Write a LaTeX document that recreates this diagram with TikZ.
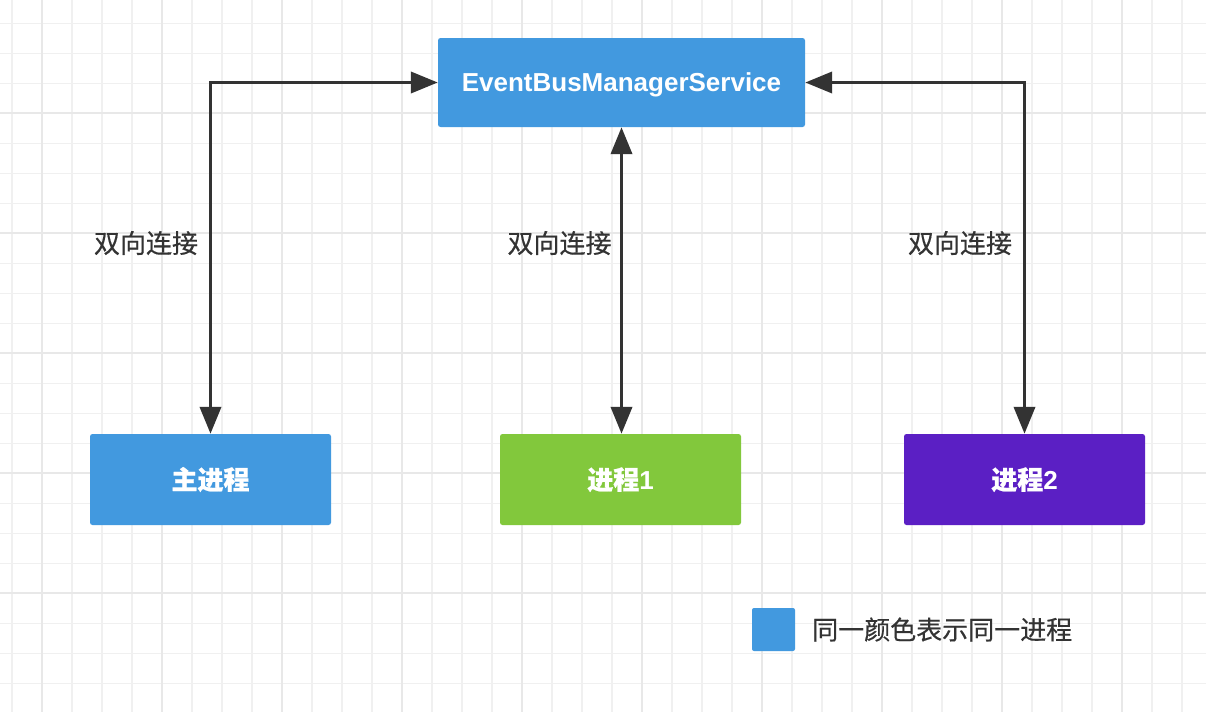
\documentclass[tikz,border=0pt]{standalone}
\usepackage{fontspec}
\setmainfont{Liberation Sans}
\newfontfamily\cjk{Noto Sans CJK SC}[FakeBold=0.4]
\newfontfamily\cjkbox{Noto Sans CJK SC}[FakeBold=0.9]
\usetikzlibrary{arrows.meta}
\definecolor{boxblue}{HTML}{4299DF}
\definecolor{boxgreen}{HTML}{82C83C}
\definecolor{boxpurple}{HTML}{5B1FC4}
\definecolor{linedark}{HTML}{333333}
\definecolor{gridminor}{HTML}{F0F0F0}
\definecolor{gridmajor}{HTML}{E8E8E8}
\tikzset{
  procbox/.style={rectangle, rounded corners=2.5pt, inner sep=0pt, text=white,
    font=\fontsize{26}{30}\selectfont\bfseries},
  cjkbox/.style={procbox, text height=19.8pt, text depth=0pt},
  latinbox/.style={procbox, text height=18.6pt, text depth=0pt},
  linklabel/.style={text=linedark, inner sep=0pt, text height=19.8pt, text depth=0pt,
    font=\cjk\fontsize{26}{30}\selectfont},
  biarrow/.style={draw=linedark, line width=3.8pt,
    {Triangle[length=27pt,width=21pt]}-{Triangle[length=27pt,width=21pt]}},
}
\begin{document}
\begin{tikzpicture}[x=1pt,y=-1pt]
\useasboundingbox (0,0) rectangle (1206,712);
\fill[white] (0,0) rectangle (1206,712);
% grid
\foreach \k in {0,...,39}{
  \draw[gridminor, line width=1.6pt] ({11.7+30*\k},0) -- ({11.7+30*\k},712);
}
\foreach \k in {0,...,22}{
  \draw[gridminor, line width=1.6pt] (0,{23.3+30*\k}) -- (1206,{23.3+30*\k});
}
\foreach \k in {0,...,9}{
  \draw[gridmajor, line width=1.8pt] ({41.7+120*\k},0) -- ({41.7+120*\k},712);
}
\foreach \k in {0,...,4}{
  \draw[gridmajor, line width=1.8pt] (0,{113.3+120*\k}) -- (1206,{113.3+120*\k});
}
% boxes
\node[latinbox, fill=boxblue, minimum width=367pt, minimum height=89pt] (ebus) at (621.5,82.5) {EventBusManagerService};
\node[cjkbox, fill=boxblue, minimum width=241pt, minimum height=91pt] (main) at (210.5,479.5) {\cjkbox 主进程};
\node[cjkbox, fill=boxgreen, minimum width=241pt, minimum height=91pt] (p1) at (620.5,479.5) {{\cjkbox 进程}1};
\node[cjkbox, fill=boxpurple, minimum width=241pt, minimum height=91pt] (p2) at (1024.5,479.5) {{\cjkbox 进程}2};
% connectors
\coordinate (mtop) at ([xshift=1pt]p1.north);
\draw[biarrow] (main.north) |- (ebus.west);
\draw[biarrow] (mtop) -- (mtop |- ebus.south);
\draw[biarrow] (p2.north) |- (ebus.east);
% labels
\node[linklabel] (l1) at (146,243) {双向连接};
\node[linklabel] (l2) at (559.5,243) {双向连接};
\node[linklabel] (l3) at (960,243) {双向连接};
% legend
\node[rectangle, rounded corners=2pt, fill=boxblue, minimum size=43pt, inner sep=0pt] (leg) at (773.5,629.5) {};
\node[linklabel, anchor=west] (legtext) at (812,629.5) {同一颜色表示同一进程};
\end{tikzpicture}
\end{document}
